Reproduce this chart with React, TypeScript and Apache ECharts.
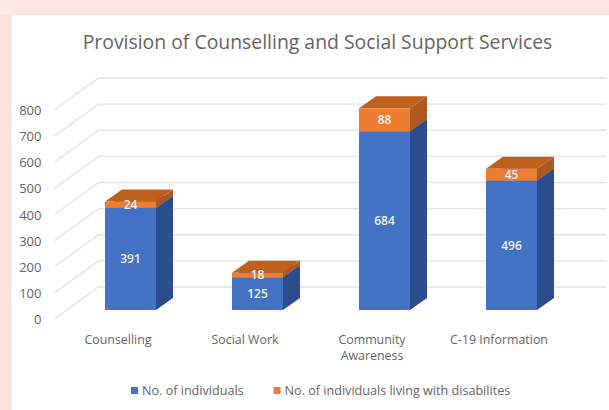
import React, { useEffect, useRef } from "react";
import * as echarts from "echarts";

const categories = ["Counselling", "Social Work", "Community\nAwareness", "C-19 Information"];
const individuals = [391, 125, 684, 496];
const withDisabilities = [24, 18, 88, 45];
const yTicks = [0, 100, 200, 300, 400, 500, 600, 700, 800];

const WIDTH = 609;
const HEIGHT = 410;
const FONT = '"Open Sans", sans-serif';
const INK = "#646464";

// Oblique projection used to fake the 3D look.
const WALL_DX = 44;
const WALL_DY = -32;
const BAR_PLANE_DX = 12.5;
const BAR_PLANE_DY = -9;
const BAR_WIDTH = 51;
const BAR_DEPTH_DX = 17;
const BAR_DEPTH_DY = -12;

const wallItem = (params: any, api: any) => {
  const y = api.coord([0, api.value(1)])[1];
  const g = params.coordSys;
  return {
    type: "polyline",
    silent: true,
    shape: {
      points: [
        [g.x, y],
        [g.x + WALL_DX, y + WALL_DY],
        [g.x + g.width + WALL_DX, y + WALL_DY],
      ],
    },
    style: { stroke: "#e4e4e4", lineWidth: 1.4, fill: "none" },
  };
};

const boxItem = (front: string, side: string, top: string) => (_params: any, api: any) => {
  const idx = api.value(0);
  const base = api.value(2);
  const value = api.value(1);
  const bottomPt = api.coord([idx, base]);
  const topPt = api.coord([idx, base + value]);
  const x0 = bottomPt[0] + BAR_PLANE_DX - BAR_WIDTH / 2;
  const x1 = x0 + BAR_WIDTH;
  const y0 = bottomPt[1] + BAR_PLANE_DY;
  const y1 = topPt[1] + BAR_PLANE_DY;
  const dx = BAR_DEPTH_DX;
  const dy = BAR_DEPTH_DY;
  return {
    type: "group",
    children: [
      {
        type: "polygon",
        shape: { points: [[x1, y0], [x1 + dx, y0 + dy], [x1 + dx, y1 + dy], [x1, y1]] },
        style: { fill: side },
      },
      {
        type: "polygon",
        shape: { points: [[x0, y1], [x0 + dx, y1 + dy], [x1 + dx, y1 + dy], [x1, y1]] },
        style: { fill: top },
      },
      {
        type: "rect",
        shape: { x: x0, y: y1, width: BAR_WIDTH, height: y0 - y1 },
        style: { fill: front },
      },
      {
        type: "text",
        x: (x0 + x1) / 2,
        y: (y0 + y1) / 2,
        style: {
          text: String(value),
          fill: "#eef1f8",
          font: `600 12px ${FONT}`,
          align: "center",
          verticalAlign: "middle",
        },
      },
    ],
  };
};

export default function App() {
  const ref = useRef<HTMLDivElement>(null);

  useEffect(() => {
    document.body.style.margin = "0";
    const chart = echarts.init(ref.current!, undefined, { renderer: "svg" });
    chart.setOption({
      animation: false,
      backgroundColor: "#fde8e4",
      graphic: [
        {
          type: "rect",
          z: 0,
          silent: true,
          shape: { x: 0, y: 14, width: 11, height: HEIGHT - 14 },
          style: { fill: "#fddfdb" },
        },
        {
          type: "rect",
          z: 0,
          silent: true,
          shape: { x: 11, y: 15, width: WIDTH, height: HEIGHT },
          style: { fill: "#ffffff", stroke: "#e9e9e9", lineWidth: 1 },
        },
      ],
      title: {
        text: "Provision of Counselling and Social Support Services",
        left: 312.5,
        top: 27,
        textAlign: "center",
        textStyle: { fontFamily: FONT, fontSize: 19.4, fontWeight: "normal", color: INK },
      },
      legend: {
        data: ["No. of individuals", "No. of individuals living with disabilites"],
        left: 126,
        top: 379,
        icon: "rect",
        itemWidth: 7,
        itemHeight: 7,
        itemGap: 30,
        textStyle: { fontFamily: FONT, fontSize: 12.6, color: INK, padding: [0, 0, 0, -1] },
      },
      grid: { left: 54.5, top: 110, width: 508, height: 209 },
      xAxis: {
        type: "category",
        data: categories,
        axisLine: { show: false },
        axisTick: { show: false },
        axisLabel: {
          interval: 0,
          margin: 12,
          fontFamily: FONT,
          fontSize: 12.4,
          lineHeight: 16.5,
          color: INK,
        },
      },
      yAxis: {
        type: "value",
        min: 0,
        max: 800,
        interval: 100,
        axisLine: { show: false },
        axisTick: { show: false },
        splitLine: { show: false },
        axisLabel: { margin: 13, fontFamily: FONT, fontSize: 13, color: INK },
      },
      series: [
        {
          type: "custom",
          name: "wall",
          silent: true,
          z: 1,
          data: yTicks.map((v) => [0, v]),
          encode: { x: 0, y: 1 },
          renderItem: wallItem,
        },
        {
          type: "custom",
          name: "No. of individuals",
          z: 3,
          itemStyle: { color: "#4472c4" },
          data: individuals.map((v, i) => [i, v, 0]),
          encode: { x: 0, y: 1 },
          renderItem: boxItem("#4472c4", "#2b4d8e", "#2f5597"),
        },
        {
          type: "custom",
          name: "No. of individuals living with disabilites",
          z: 4,
          itemStyle: { color: "#ed7d31" },
          data: withDisabilities.map((v, i) => [i, v, individuals[i]]),
          encode: { x: 0, y: 1 },
          renderItem: boxItem("#ed7d31", "#ad5a20", "#c0601d"),
        },
      ],
    });
    return () => chart.dispose();
  }, []);

  return <div ref={ref} style={{ width: WIDTH, height: HEIGHT }} />;
}
